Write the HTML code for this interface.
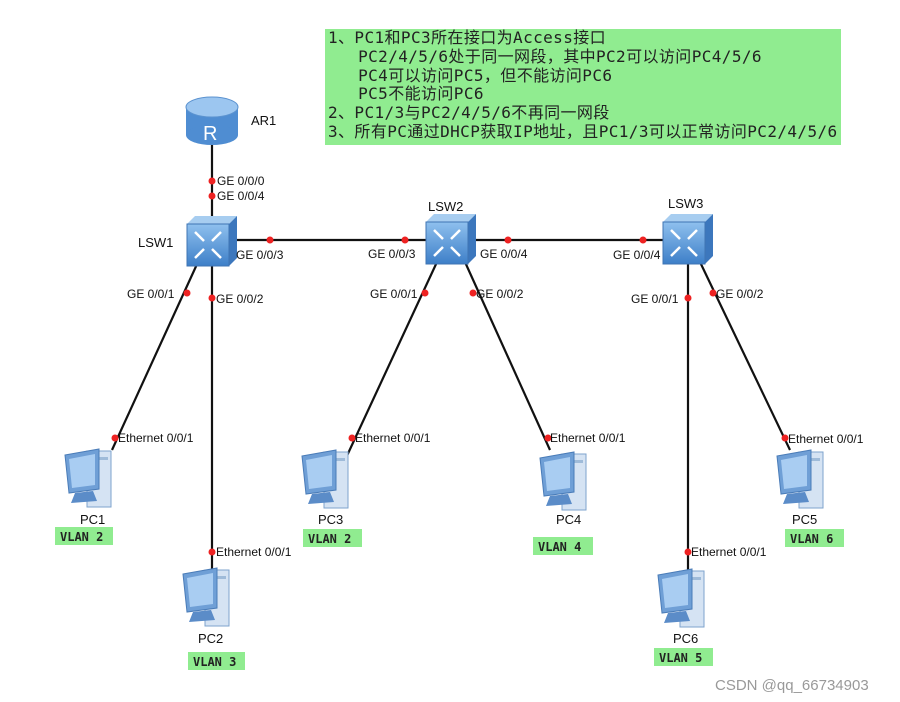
<!DOCTYPE html>
<html><head><meta charset="utf-8"><style>
body{margin:0;background:#fff;width:900px;height:702px;overflow:hidden}
svg text{font-family:"Liberation Sans",sans-serif;font-size:12px;fill:#111}
.v{font-family:"DejaVu Sans Mono","Liberation Mono",monospace;font-size:12px;font-weight:bold;fill:#222}
.note{position:absolute;left:325px;top:29px;width:516px;height:116px;background:#90ec90;box-sizing:border-box;padding:0 3px;font-family:"DejaVu Sans Mono","Liberation Mono","Noto Sans CJK SC",monospace;font-size:16px;letter-spacing:0.4px;line-height:18.8px;color:#222;white-space:pre;overflow:hidden}
</style></head><body>
<div class="note">1、PC1和PC3所在接口为Access接口
   PC2/4/5/6处于同一网段，其中PC2可以访问PC4/5/6
   PC4可以访问PC5，但不能访问PC6
   PC5不能访问PC6
2、PC1/3与PC2/4/5/6不再同一网段
3、所有PC通过DHCP获取IP地址，且PC1/3可以正常访问PC2/4/5/6</div>
<svg width="900" height="702" style="position:absolute;left:0;top:0">
<defs>
<linearGradient id="bl" x1="0" y1="0" x2="0" y2="1"><stop offset="0" stop-color="#8fc0ee"/><stop offset="1" stop-color="#3d7fc8"/></linearGradient>
<g id="pc">
<rect x="24" y="4" width="24" height="56" fill="#d5e3f3" stroke="#7ea3cc"/>
<rect x="27" y="10" width="18" height="3" fill="#9fbbd9"/>
<polygon points="2,8 36,2 36,42 6,46" fill="#6f9fd6" stroke="#4a7cb8"/>
<polygon points="6,12 32,7 32,38 9,41" fill="#a9cdf2"/>
<polygon points="12,46 30,44 34,54 8,56" fill="#5b8cc8"/>
</g>
<g id="sw">
<polygon points="0,8 8,0 50,0 42,8" fill="#a7cdf0"/>
<polygon points="42,8 50,0 50,42 42,50" fill="#3c77bd"/>
<rect x="0" y="8" width="42" height="42" fill="url(#bl)" stroke="#3f74b3"/>
<g stroke="#fff" stroke-width="2.5"><line x1="8" y1="16" x2="17" y2="25"/><line x1="34" y1="16" x2="25" y2="25"/><line x1="8" y1="42" x2="17" y2="33"/><line x1="34" y1="42" x2="25" y2="33"/></g>
</g>
</defs>
<g stroke="#111" stroke-width="2.2">
<line x1="212" y1="145" x2="212" y2="218"/>
<line x1="235" y1="240" x2="428" y2="240"/>
<line x1="475" y1="240" x2="665" y2="240"/>
<line x1="198" y1="262" x2="112" y2="450"/>
<line x1="212" y1="262" x2="212" y2="572"/>
<line x1="437" y1="262" x2="345" y2="460"/>
<line x1="465" y1="262" x2="550" y2="450"/>
<line x1="688" y1="262" x2="688" y2="572"/>
<line x1="700" y1="262" x2="790" y2="450"/>
</g>
<g fill="#e22">
<circle cx="212" cy="181" r="3.5"/><circle cx="212" cy="196" r="3.5"/>
<circle cx="270" cy="240" r="3.5"/><circle cx="405" cy="240" r="3.5"/><circle cx="508" cy="240" r="3.5"/><circle cx="643" cy="240" r="3.5"/>
<circle cx="187" cy="293" r="3.5"/><circle cx="212" cy="298" r="3.5"/><circle cx="425" cy="293" r="3.5"/><circle cx="473" cy="293" r="3.5"/><circle cx="688" cy="298" r="3.5"/><circle cx="713" cy="293" r="3.5"/>
<circle cx="115" cy="438" r="3.5"/><circle cx="212" cy="552" r="3.5"/><circle cx="352" cy="438" r="3.5"/><circle cx="548" cy="438" r="3.5"/><circle cx="785" cy="438" r="3.5"/><circle cx="688" cy="552" r="3.5"/>
</g>
<rect x="186" y="107" width="52" height="28" fill="#4f8dd2"/>
<ellipse cx="212" cy="135" rx="26" ry="10" fill="#4f8dd2"/>
<ellipse cx="212" cy="107" rx="26" ry="10" fill="#9cc6f0" stroke="#5c93d0"/>
<text x="203" y="140" style="font-size:20px;fill:#fff">R</text>
<use href="#sw" x="187" y="216"/>
<use href="#sw" x="426" y="214"/>
<use href="#sw" x="663" y="214"/>
<text x="251" y="125" style="font-size:13px">AR1</text>
<text x="138" y="247" style="font-size:13px">LSW1</text>
<text x="428" y="211" style="font-size:13px">LSW2</text>
<text x="668" y="208" style="font-size:13px">LSW3</text>
<text x="217" y="185">GE 0/0/0</text><text x="217" y="200">GE 0/0/4</text>
<text x="236" y="259">GE 0/0/3</text><text x="368" y="258">GE 0/0/3</text>
<text x="480" y="258">GE 0/0/4</text><text x="613" y="259">GE 0/0/4</text>
<text x="127" y="298">GE 0/0/1</text><text x="216" y="303">GE 0/0/2</text>
<text x="370" y="298">GE 0/0/1</text><text x="476" y="298">GE 0/0/2</text>
<text x="631" y="303">GE 0/0/1</text><text x="716" y="298">GE 0/0/2</text>
<text x="118" y="442">Ethernet 0/0/1</text><text x="355" y="442">Ethernet 0/0/1</text>
<text x="550" y="442">Ethernet 0/0/1</text><text x="788" y="443">Ethernet 0/0/1</text>
<text x="216" y="556">Ethernet 0/0/1</text><text x="691" y="556">Ethernet 0/0/1</text>
<use href="#pc" x="63" y="447"/><use href="#pc" x="300" y="448"/><use href="#pc" x="538" y="450"/>
<use href="#pc" x="775" y="448"/><use href="#pc" x="181" y="566"/><use href="#pc" x="656" y="567"/>
<text x="80" y="524" style="font-size:13px">PC1</text><text x="318" y="524" style="font-size:13px">PC3</text>
<text x="556" y="524" style="font-size:13px">PC4</text><text x="792" y="524" style="font-size:13px">PC5</text>
<text x="198" y="643" style="font-size:13px">PC2</text><text x="673" y="643" style="font-size:13px">PC6</text>
<g fill="#90ec90">
<rect x="55" y="527" width="58" height="18"/><rect x="303" y="529" width="59" height="18"/>
<rect x="533" y="537" width="60" height="18"/><rect x="785" y="529" width="59" height="18"/>
<rect x="188" y="652" width="57" height="18"/><rect x="654" y="648" width="59" height="18"/>
</g>
<text class="v" x="60" y="541">VLAN 2</text><text class="v" x="308" y="543">VLAN 2</text>
<text class="v" x="538" y="551">VLAN 4</text><text class="v" x="790" y="543">VLAN 6</text>
<text class="v" x="193" y="666">VLAN 3</text><text class="v" x="659" y="662">VLAN 5</text>
<text x="715" y="690" style="font-size:15px;fill:#999">CSDN @qq_66734903</text>
</svg>
</body></html>
